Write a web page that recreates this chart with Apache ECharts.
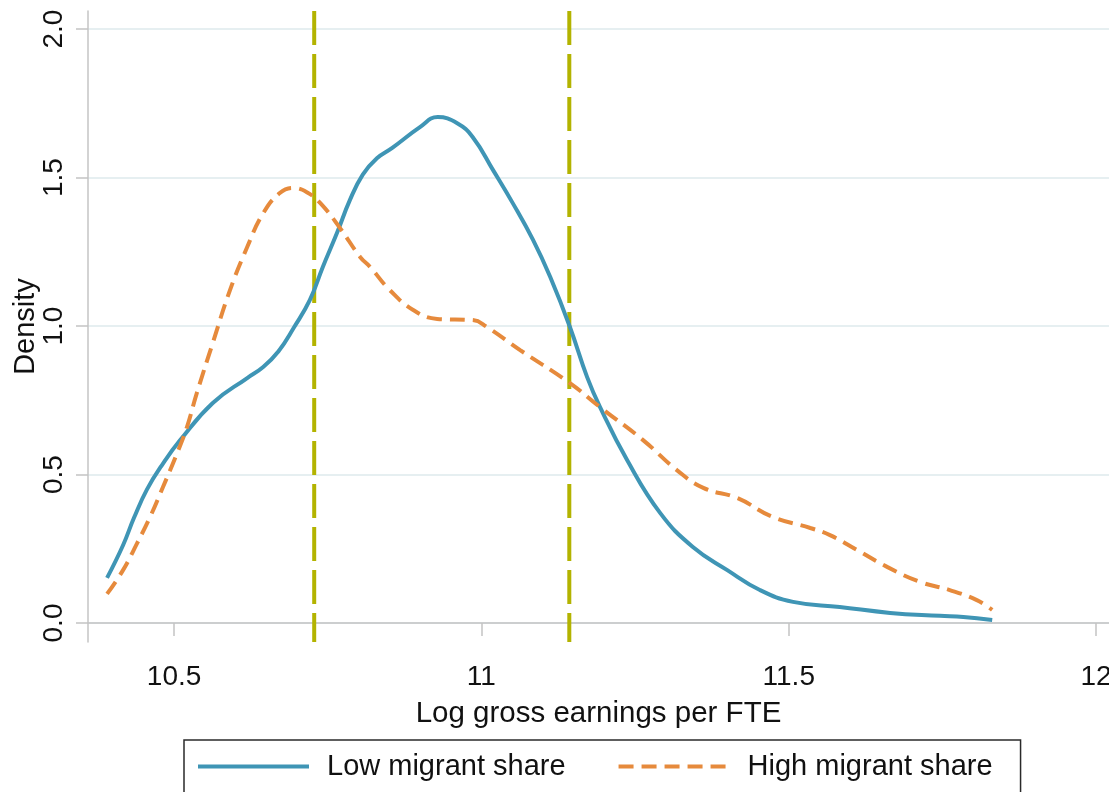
<!DOCTYPE html>
<html>
<head>
<meta charset="utf-8">
<title>Earnings density</title>
<script src="https://cdn.jsdelivr.net/npm/echarts@6/dist/echarts.min.js"></script>
<style>
  html, body { margin: 0; padding: 0; background: #fff; }
  #chart { width: 1109px; height: 792px; }
</style>
</head>
<body>
<div id="chart"></div>
<script>
// kernel density, low migrant share  [log earnings, density]
const lowShare = [
  [10.391, 0.152], [10.417, 0.262], [10.435, 0.355], [10.456, 0.450], [10.482, 0.537],
  [10.510, 0.616], [10.563, 0.741], [10.619, 0.825], [10.645, 0.862], [10.670, 0.915],
  [10.695, 0.995], [10.721, 1.088], [10.742, 1.199], [10.765, 1.313], [10.786, 1.424],
  [10.807, 1.510], [10.830, 1.565], [10.855, 1.600], [10.900, 1.670], [10.929, 1.704],
  [10.960, 1.684], [10.986, 1.636], [11.019, 1.525], [11.051, 1.414], [11.084, 1.290],
  [11.112, 1.165], [11.144, 0.997], [11.172, 0.828], [11.193, 0.727], [11.237, 0.549],
  [11.291, 0.370], [11.344, 0.256], [11.400, 0.178], [11.453, 0.111], [11.507, 0.071],
  [11.583, 0.054], [11.665, 0.034], [11.746, 0.024], [11.784, 0.020], [11.831, 0.010]
];

// kernel density, high migrant share
const highShare = [
  [10.391, 0.098], [10.417, 0.178], [10.440, 0.269], [10.461, 0.357], [10.482, 0.458],
  [10.505, 0.572], [10.521, 0.660], [10.537, 0.774], [10.563, 0.943], [10.591, 1.121],
  [10.619, 1.266], [10.645, 1.380], [10.672, 1.448], [10.694, 1.465], [10.716, 1.451],
  [10.738, 1.414], [10.770, 1.330], [10.803, 1.232], [10.819, 1.199], [10.851, 1.121],
  [10.889, 1.054], [10.928, 1.024], [10.986, 1.020], [11.009, 0.997], [11.063, 0.919],
  [11.144, 0.808], [11.193, 0.727], [11.263, 0.616], [11.318, 0.515], [11.361, 0.455],
  [11.416, 0.421], [11.474, 0.357], [11.535, 0.320], [11.567, 0.296], [11.611, 0.246],
  [11.660, 0.189], [11.714, 0.138], [11.762, 0.111], [11.806, 0.077], [11.831, 0.044]
];

// dashed reference lines (x positions)
const cutoffs = [10.728, 11.143];

const xTicks = [10.5, 11, 11.5, 12];
const yTicks = [0, 0.5, 1, 1.5, 2];

const xRange = [10.36, 12.021];
const yRange = [-0.064, 2.061];

const chart = echarts.init(document.getElementById('chart'));

const font = '"Liberation Sans", Arial, sans-serif';
const axisGrey = '#c4c4c4';

const cutoffSeries = cutoffs.map((x, i) => ({
  name: 'cutoff' + i,
  type: 'line',
  data: [[x, yRange[1]], [x, yRange[0]]],
  symbol: 'none',
  silent: true,
  z: 1,
  lineStyle: { color: '#b3b300', width: 4, type: [34, 9] }
}));

const option = {
  animation: false,
  backgroundColor: '#fff',
  textStyle: { fontFamily: font },
  grid: { left: 88, right: 0, top: 11, bottom: 150, containLabel: false, outerBoundsMode: 'none' },
  legend: {
    data: ['Low migrant share', 'High migrant share'],
    left: 184,
    top: 740,
    orient: 'horizontal',
    itemWidth: 111,
    itemHeight: 28,
    itemGap: 51,
    padding: [12, 28, 20, 12],
    borderColor: '#2a2a2a',
    borderWidth: 1.5,
    borderRadius: 0,
    itemStyle: { opacity: 0 },
    lineStyle: { width: 4 },
    textStyle: { fontSize: 29, color: '#111', fontFamily: font, padding: [0, 0, 0, 13] }
  },
  xAxis: {
    type: 'value',
    min: xRange[0],
    max: xRange[1],
    name: 'Log gross earnings per FTE',
    nameLocation: 'middle',
    nameGap: 57,
    nameMoveOverlap: false,
    nameTextStyle: { fontSize: 29.5, color: '#111', fontFamily: font },
    axisLine: { show: true, lineStyle: { color: axisGrey, width: 1.5 } },
    axisTick: { show: true, customValues: xTicks, length: 13, lineStyle: { color: axisGrey, width: 1.5 } },
    axisLabel: {
      customValues: xTicks,
      fontSize: 28,
      color: '#111',
      margin: 21,
      formatter: v => String(v)
    },
    splitLine: { show: false }
  },
  yAxis: {
    type: 'value',
    min: yRange[0],
    max: yRange[1],
    name: 'Density',
    nameLocation: 'middle',
    nameGap: 48,
    nameMoveOverlap: false,
    nameTextStyle: { fontSize: 29, color: '#111', fontFamily: font },
    axisLine: { show: true, lineStyle: { color: axisGrey, width: 1.5 } },
    axisTick: { show: true, customValues: yTicks, length: 12, lineStyle: { color: axisGrey, width: 1.5 } },
    axisLabel: {
      customValues: yTicks,
      fontSize: 28,
      color: '#111',
      rotate: 90,
      margin: 20,
      formatter: v => v.toFixed(1)
    },
    splitLine: { show: true, lineStyle: { color: '#e6eff1', width: 2 } }
  },
  series: [
    ...cutoffSeries,
    {
      name: 'Low migrant share',
      type: 'line',
      data: lowShare,
      smooth: 0.45,
      symbol: 'none',
      z: 3,
      lineStyle: { color: '#3f95b5', width: 4 },
      itemStyle: { color: '#3f95b5' }
    },
    {
      name: 'High migrant share',
      type: 'line',
      data: highShare,
      smooth: 0.45,
      symbol: 'none',
      z: 4,
      lineStyle: { color: '#e68a3c', width: 4, type: [15, 8] },
      itemStyle: { color: '#e68a3c' }
    }
  ]
};

chart.setOption(option);
</script>
</body>
</html>
